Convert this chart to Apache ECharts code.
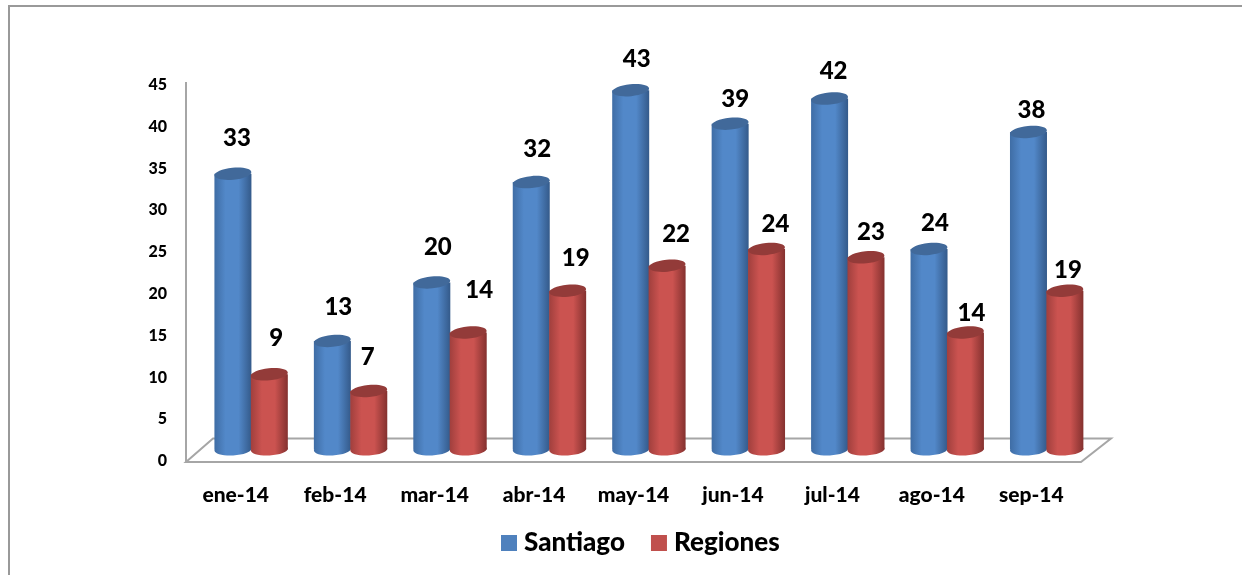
<!DOCTYPE html>
<html>
<head>
<meta charset="utf-8">
<title>Santiago / Regiones</title>
<script src="https://cdn.jsdelivr.net/npm/echarts@6/dist/echarts.min.js"></script>
<style>
    html,body{margin:0;padding:0;background:#fff;}
    #chart{width:1242px;height:575px;}
</style>
</head>
<body>
<div id="chart"></div>
<script>
var categories = ['ene-14','feb-14','mar-14','abr-14','may-14','jun-14','jul-14','ago-14','sep-14'];
var santiago = [33,13,20,32,43,39,42,24,38];
var regiones = [9,7,14,19,22,24,23,14,19];

// how far each number sits above its bar, they were placed by hand in the original
var santiagoRise = [36,34,35,33,31,24,27,26,22];
var santiagoShift = [4,6,6,6,6,5,4,6,3];
var regionesRise = [36,34,42,32,31,25,25,19,20];
var regionesShift = [7,-1,11,8,9,9,5,6,3];

var FONT = 'Lato, "Open Sans", sans-serif';
var barW = 37;
var capH = 6;
var liftY = 11.5;   // bars stand on the back part of the floor

function cylinder(offsetX, dark, light, edge, top, rise, shift){
    return function(params, api){
        var i = api.value(0);
        var val = api.value(1);
        var p0 = api.coord([i, 0]);
        var p1 = api.coord([i, val]);
        var cx = p0[0] + offsetX;
        var by = p0[1] - liftY;
        var ty = p1[1] - liftY;
        var fill = new echarts.graphic.LinearGradient(0,0,1,0,[
            {offset:0, color:edge},
            {offset:0.3, color:light},
            {offset:0.65, color:light},
            {offset:1, color:dark}
        ]);
        return {
            type:'group',
            children:[
                {type:'ellipse', shape:{cx:cx, cy:by, rx:barW/2, ry:capH}, style:{fill:fill},
                    rotation:0.05, originX:cx, originY:by},
                {type:'rect', shape:{x:cx-barW/2, y:ty, width:barW, height:by-ty}, style:{fill:fill}},
                {type:'ellipse', shape:{cx:cx, cy:ty, rx:barW/2, ry:capH}, style:{fill:top},
                    rotation:0.1, originX:cx, originY:ty},
                {type:'text', style:{
                    text:String(val),
                    x:cx + shift[i],
                    y:ty - rise[i],
                    align:'center',
                    verticalAlign:'middle',
                    font:'900 24px ' + FONT,
                    fill:'#000'
                }}
            ]
        };
    };
}

function floor(params){
    var g = params.coordSys;
    var b = g.y + g.height;
    return {
        type:'polygon',
        shape:{points:[
            [g.x, b+1],
            [g.x+27, b-22.5],
            [g.x+g.width+30, b-22.5],
            [g.x+g.width, b+1]
        ]},
        style:{fill:'none', stroke:'#a6a6a6', lineWidth:2}
    };
}

var rows = function(arr){
    return arr.map(function(v, i){ return [i, v]; });
};

var myChart = echarts.init(document.getElementById('chart'));
var option = {
    animation:false,
    backgroundColor:'#fff',
    graphic:[
        {type:'polyline', shape:{points:[[9,575],[9,6],[1242,6]]}, style:{fill:'none', stroke:'#999', lineWidth:2}, silent:true},
        {type:'line', shape:{x1:186,y1:82,x2:186,y2:463}, style:{stroke:'#a6a6a6', lineWidth:2}, silent:true}
    ],
    grid:{left:186, top:85, width:895, height:376},
    legend:{
        left:496,
        top:525,
        itemWidth:16,
        itemHeight:16,
        itemGap:26,
        icon:'rect',
        data:['Santiago','Regiones'],
        textStyle:{fontFamily:FONT, fontWeight:900, fontSize:26, color:'#000', padding:[0,0,0,2]}
    },
    xAxis:{
        type:'category',
        data:categories,
        axisLine:{show:false},
        axisTick:{show:false},
        axisLabel:{color:'#000', fontFamily:FONT, fontWeight:900, fontSize:21, margin:24}
    },
    yAxis:{
        type:'value',
        min:0,
        max:45,
        interval:5,
        splitLine:{show:false},
        axisTick:{show:false},
        axisLine:{show:false},
        axisLabel:{color:'#000', fontFamily:FONT, fontWeight:900, fontSize:16, margin:19}
    },
    series:[
        {
            name:'floor',
            type:'custom',
            renderItem:floor,
            data:[[0,0]],
            silent:true,
            z:1
        },
        {
            name:'Santiago',
            type:'custom',
            renderItem:cylinder(-2.8,'#345a8a','#5288c9','#3f6da5','#41699a',santiagoRise,santiagoShift),
            itemStyle:{color:'#4f81bd'},
            encode:{x:0,y:1},
            data:rows(santiago),
            z:2
        },
        {
            name:'Regiones',
            type:'custom',
            renderItem:cylinder(33.6,'#84312f','#cb5350','#a03f3d','#933b39',regionesRise,regionesShift),
            itemStyle:{color:'#c0504d'},
            encode:{x:0,y:1},
            data:rows(regiones),
            z:3
        }
    ]
};
myChart.setOption(option,true);
</script>
</body>
</html>
